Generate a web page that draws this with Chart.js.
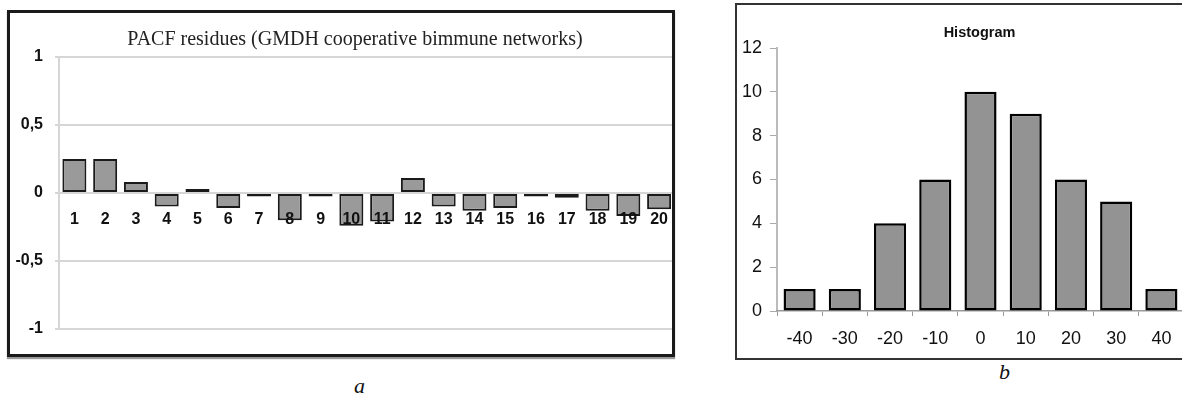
<!DOCTYPE html>
<html>
<head>
<meta charset="utf-8">
<script src="https://cdn.jsdelivr.net/npm/chart.js@4"></script>
<style>
  body { margin: 0; width: 1182px; height: 399px; overflow: hidden; background: #fff; position: relative; }
  #boxA { position: absolute; left: 7px; top: 10px; width: 662px; height: 341px; border: 3px solid #1a1a1a; box-shadow: 0 2px 1px #999; }
  #boxA::after { content: ''; position: absolute; left: -3px; top: -3px; right: -3px; bottom: -3px; border: 3px solid #1a1a1a; pointer-events: none; }
  #boxB { position: absolute; left: 735px; top: 3px; width: 447px; height: 353px; border: 2px solid #333; border-right: none; }
  #pacf { position: absolute; left: 0; top: 0; }
  .cap { position: absolute; font: italic 22px "Liberation Serif", serif; color: #111; }
</style>
</head>
<body>
<div id="boxA"><canvas id="pacf" width="667" height="341"></canvas></div>
<div id="boxB"><canvas id="hist" width="447" height="353"></canvas></div>
<div class="cap" style="left:354px; top:373px;">a</div>
<div class="cap" style="left:999px; top:359px;">b</div>
<script>
// left: PACF of residues, lags 1..20
const pacfLags = ['1','2','3','4','5','6','7','8','9','10','11','12','13','14','15','16','17','18','19','20'];
const pacfValues = [0.25, 0.25, 0.08, -0.10, 0.03, -0.11, -0.025, -0.20, -0.025, -0.24,
                    -0.21, 0.11, -0.10, -0.13, -0.11, -0.025, -0.035, -0.13, -0.17, -0.12];

// right: histogram
const histBins = ['-40','-30','-20','-10','0','10','20','30','40'];
const histCounts = [1, 1, 4, 6, 10, 9, 6, 5, 1];

Chart.defaults.font.family = '"Liberation Sans", Arial, sans-serif';
Chart.defaults.color = '#111';

// the titles are not centred on the canvas in the original, nudge them sideways
const shiftTitle = {
  id: 'shiftTitle',
  afterLayout(chart, args, opts) {
    const t = chart.titleBlock;
    if (t && opts.dx) {
      t.left += opts.dx;
      t.right += opts.dx;
    }
  }
};

new Chart(document.getElementById('pacf'), {
  type: 'bar',
  data: {
    labels: pacfLags,
    datasets: [{
      data: pacfValues,
      backgroundColor: '#9a9a9a',
      borderColor: '#1a1a1a',
      borderWidth: 2,
      borderSkipped: false,
      barPercentage: 0.78,
      categoryPercentage: 1
    }]
  },
  options: {
    responsive: false,
    animation: false,
    layout: { padding: { left: 0, right: 0, top: 0, bottom: 25 } },
    plugins: {
      legend: { display: false },
      tooltip: { enabled: false },
      shiftTitle: { dx: 11.5 },
      title: {
        display: true,
        text: 'PACF residues (GMDH cooperative bimmune networks)',
        font: { family: '"Liberation Serif", "Times New Roman", serif', size: 20, weight: 'normal' },
        color: '#222',
        padding: { top: 15, bottom: 5 }
      }
    },
    scales: {
      y: {
        min: -1,
        max: 1,
        ticks: {
          stepSize: 0.5,
          padding: 12,
          font: { size: 16, weight: 'bold' },
          callback: v => String(v).replace('.', ',')
        },
        grid: { color: '#d6d6d6', lineWidth: 2, tickLength: 4 },
        border: { color: '#d6d6d6', width: 2 },
        afterFit: s => { s.width = 49; }
      },
      x: {
        position: { y: 0 },
        grid: { display: false },
        border: { display: false },
        ticks: { z: 1, padding: 9, font: { size: 16, weight: 'bold' }, maxRotation: 0, autoSkip: false }
      }
    }
  },
  plugins: [shiftTitle]
});

new Chart(document.getElementById('hist'), {
  type: 'bar',
  data: {
    labels: histBins,
    datasets: [{
      data: histCounts,
      backgroundColor: '#939393',
      borderColor: '#000',
      borderWidth: 2.5,
      borderSkipped: false,
      barPercentage: 0.71,
      categoryPercentage: 1
    }]
  },
  options: {
    responsive: false,
    animation: false,
    layout: { padding: { left: 0, right: 0, top: 0, bottom: 0 } },
    plugins: {
      legend: { display: false },
      tooltip: { enabled: false },
      shiftTitle: { dx: 19 },
      title: {
        display: true,
        text: 'Histogram',
        font: { size: 14.5, weight: 'bold' },
        color: '#111',
        padding: { top: 19, bottom: 6.6 }
      }
    },
    scales: {
      y: {
        min: 0,
        max: 12,
        ticks: { stepSize: 2, padding: 8, font: { size: 18 } },
        grid: { drawOnChartArea: false, tickLength: 7, color: '#aaa' },
        border: { color: '#bbb', width: 2 },
        afterFit: s => { s.width = 40; }
      },
      x: {
        grid: { offset: true, drawOnChartArea: false, tickLength: 5, color: '#999' },
        border: { color: '#999', width: 1.5 },
        ticks: { padding: 12, font: { size: 18 }, maxRotation: 0 },
        afterFit: s => { s.height = 47; }
      }
    }
  },
  plugins: [shiftTitle]
});
</script>
</body>
</html>
